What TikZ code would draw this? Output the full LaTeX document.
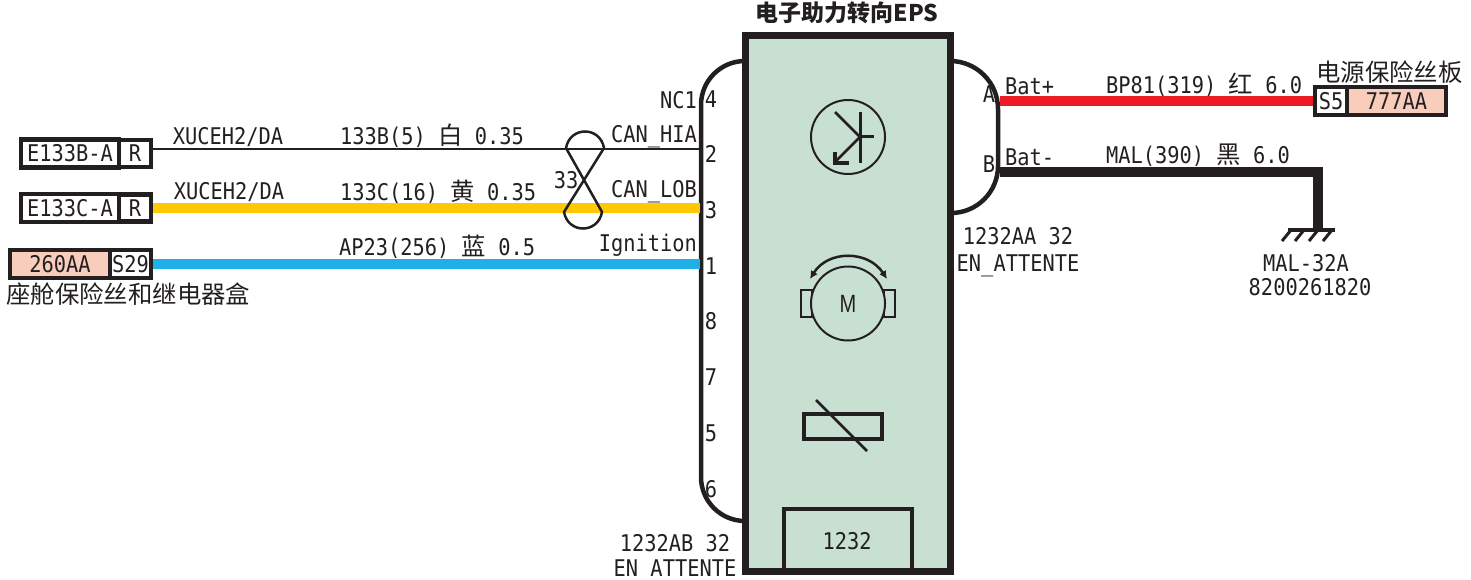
\documentclass[tikz,border=0pt]{standalone}
\usepackage{fontspec}
\usepackage{xcolor}
\usetikzlibrary{positioning,arrows.meta}
\newfontfamily\wirefam[FakeStretch=0.885]{DejaVu Sans Mono}
\newfontfamily\motorfam[FakeStretch=0.8]{Liberation Sans}
\newfontfamily\cjkfam{Noto Sans CJK SC}
\newcommand{\wirefont}{\fontsize{23}{23}\selectfont\wirefam}
\newcommand{\hanzi}[1]{{\fontsize{24.4}{24.4}\selectfont\cjkfam #1}}
\definecolor{ecubg}{HTML}{C8E0D1}
\definecolor{fusebg}{HTML}{F9CDBB}
\definecolor{wireyellow}{HTML}{FFC800}
\definecolor{wireblue}{HTML}{1EB0E6}
\definecolor{wirered}{HTML}{ED1C24}
\definecolor{inkblack}{HTML}{231F20}
\tikzset{
  txt/.style={inner sep=0pt,font=\wirefont,text=inkblack},
  pinlabel/.style={txt},
  signame/.style={txt,anchor=east},
  wirename/.style={txt,anchor=west},
  connbox/.style={draw=inkblack,line width=4.5pt,inner sep=0pt,minimum height=28pt,font=\wirefont,text=inkblack,fill=white},
  fusebox/.style={connbox,fill=fusebg},
  fatwire/.style={line width=10pt},
  shell/.style={draw=inkblack,line width=4.5pt},
  symline/.style={draw=inkblack,line width=2.5pt}
}
\begin{document}
\begin{tikzpicture}[x=1pt,y=-1pt]
  \useasboundingbox (0,0) rectangle (1471,580);
  % connector shells
  \draw[shell] (745,61) arc[start angle=-90,end angle=-180,radius=44] -- (701,477) arc[start angle=180,end angle=90,radius=44];
  \draw[shell] (950,61) arc[start angle=-90,end angle=0,radius=48] -- (998,166) arc[start angle=0,end angle=90,radius=47];
  % module
  \node[draw=inkblack,fill=ecubg,line width=7pt,minimum width=205pt,minimum height=535pt,inner sep=0pt,outer sep=0pt](ecu) at (847.5,303.5){};
  \node[draw=inkblack,line width=4pt,minimum width=128pt,minimum height=61pt,inner sep=0pt,outer sep=0pt](partbox) at (848,539.5){};
  \node[txt](partno) at (847,541){1232};
  \node[inner sep=0pt,font=\fontsize{23}{23}\selectfont\cjkfam\bfseries,text=inkblack](ecutitle) at (847,13){电子助力转向EPS};
  % pins
  \foreach \pinno/\ypos in {4/99,2/154,3/210,1/266,8/321,7/377,5/433,6/489}
    \node[pinlabel](pin\pinno) at (711,\ypos){\pinno};
  \node[pinlabel](pinA) at (989,94){A};
  \node[pinlabel](pinB) at (989,164){B};
  \coordinate (end2) at (700,149);
  \coordinate (end3) at (700,208);
  \coordinate (end1) at (700,264);
  \coordinate (endA) at (1000,101);
  \coordinate (endB) at (1000,172);
  % left boxes
  \node[connbox,minimum width=98pt](e133b) at (70,153.5){E133B-A};
  \node[connbox,minimum width=32pt,right=-4.5pt of e133b,minimum height=27pt](rb){R};
  \node[connbox,minimum width=98pt](e133c) at (70,208){E133C-A};
  \node[connbox,minimum width=32pt,right=-4.5pt of e133c,minimum height=27pt](rc){R};
  \node[fusebox,minimum width=100pt](f260) at (60,264){260AA};
  \node[connbox,minimum width=41pt,right=-4.5pt of f260](s29){S29};
  \node[inner sep=0pt,anchor=west,text=inkblack](cabinbox) at (6,294){\hanzi{座舱保险丝和继电器盒}};
  % right boxes
  \node[connbox,minimum width=32pt](s5) at (1331,101){S5};
  \node[fusebox,minimum width=99pt,right=-4.5pt of s5](f777){777AA};
  \node[inner sep=0pt,anchor=west,text=inkblack](powerbox) at (1316,72){\hanzi{电源保险丝板}};
  % wires
  \draw[inkblack,line width=1.2pt] (rb.east |- end2) -- (end2);
  \draw[wireyellow,fatwire] (rc.east) -- (end3);
  \draw[wireblue,fatwire] (s29.east) -- (end1);
  \draw[wirered,fatwire] (endA) -- (s5.west);
  \coordinate (gndtop) at (1318,172);
  \coordinate (gndbot) at (1318,230);
  \draw[inkblack,fatwire,line join=miter] (endB) -- (gndtop) -- (gndbot);
  % ground
  \draw[inkblack,line width=3.5pt] (1288,230) -- (1335,230);
  \foreach \xpos in {1291,1304,1318,1332}
    \draw[inkblack,line width=3pt] (\xpos,230) -- (\xpos-9,241);
  % twist
  \draw[inkblack,line width=2.5pt] (566,148) .. controls (570,126) and (600,126) .. (604,148) -- (564,212) .. controls (568,234) and (598,234) .. (602,212) -- cycle;
  \node[txt](twistno) at (566,180){33};
  % labels
  \node[signame](nc) at (697,100){NC1};
  \node[signame](canhi) at (697,137){CAN\_HIA};
  \node[signame](canlo) at (697,192){CAN\_LOB};
  \node[signame](ign) at (697,245){Ignition};
  \node[txt](xuce1) at (228,137){XUCEH2/DA};
  \node[txt](xuce2) at (229,192){XUCEH2/DA};
  \node[wirename](w133b) at (340,136){133B(5) \hanzi{白} 0.35};
  \node[wirename](w133c) at (340,192){133C(16) \hanzi{黄} 0.35};
  \node[wirename](wap23) at (339,247){AP23(256) \hanzi{蓝} 0.5};
  \node[wirename](batp) at (1005,86){Bat+};
  \node[wirename](batm) at (1005,157){Bat-};
  \node[wirename](wbp81) at (1106,85){BP81(319) \hanzi{红} 6.0};
  \node[wirename](wmal) at (1106,155){MAL(390) \hanzi{黑} 6.0};
  \node[txt](aa32) at (1018,236){1232AA 32};
  \node[txt](aawait) at (1018,266){EN\_ATTENTE};
  \node[txt](ab32) at (675,543){1232AB 32};
  \node[txt](abwait) at (675,571){EN\_ATTENTE};
  \node[txt](malgnd) at (1306,263){MAL-32A};
  \node[txt](malref) at (1310,287){8200261820};
  % transistor
  \node[draw=inkblack,line width=2pt,circle,minimum size=74pt,inner sep=0pt](trans) at (848,137){};
  \draw[symline,line width=3pt] (860,112) -- (860,163);
  \draw[symline] (835,112) -- (860,137);
  \draw[symline,line width=3pt] (860,137) -- (874,137);
  \draw[symline] (860,137) -- (835,162);
  \draw[inkblack,line width=4pt] (835,152) -- (835,163) -- (849,163);
  % motor
  \draw[symline] (801,290) rectangle (812,317);
  \draw[symline] (884,290) rectangle (895,317);
  \node[draw=inkblack,fill=ecubg,line width=2pt,circle,minimum size=74pt,inner sep=0pt,font=\fontsize{25}{25}\selectfont\motorfam,text=inkblack](motor) at (848,303.5){M};
  \draw[symline,{Latex[length=8pt,width=8pt]}-{Latex[length=8pt,width=8pt]}] (810,279) .. controls (828,250) and (868,250) .. (887,279);
  % resistor
  \draw[inkblack,line width=4pt] (804,414) rectangle (882,439);
  \draw[symline] (816,400) -- (867,451);
\end{tikzpicture}
\end{document}
